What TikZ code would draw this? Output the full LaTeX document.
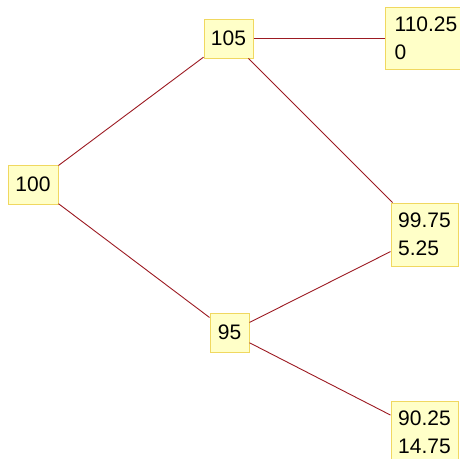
\documentclass[tikz,border=0pt]{standalone}
\usepackage{fontspec}
\setmainfont{Liberation Sans}
\definecolor{linkred}{HTML}{9C1A22}
\definecolor{boxfill}{HTML}{FFFFC8}
\definecolor{boxline}{HTML}{F0D860}
\begin{document}
\begin{tikzpicture}[x=1pt,y=-1pt,
  treebox/.style={draw=boxline, fill=boxfill, line width=1pt, inner sep=0pt,
    align=left, font=\fontsize{21}{27.7}\selectfont},
  link/.style={draw=linkred, line width=0.9pt}]
  \useasboundingbox (0,0) rectangle (460,458);
  \clip (0,0) rectangle (460,458);

  % price tree nodes
  \node[treebox, minimum width=50pt, minimum height=39pt] (n100) at (33,184.5) {100};
  \node[treebox, minimum width=49pt, minimum height=39pt] (n105) at (228.5,38.5) {105};
  \node[treebox, minimum width=39pt, minimum height=39pt] (n95) at (229.5,332.5) {95};
  \node[treebox, minimum width=82pt, minimum height=62pt] (uu) at (426,38.5) {110.25\\0};
  \node[treebox, minimum width=67pt, minimum height=63pt] (ud) at (424.5,234.5) {99.75\\5.25};
  \node[treebox, minimum width=67pt, minimum height=63pt] (dd) at (424.5,432.5) {90.25\\14.75};

  % branches
  \draw[link] (n100) -- (n105);
  \draw[link] (n100) -- (n95);
  \draw[link] (n105) -- (uu);
  \draw[link] (n105) -- (ud);
  \draw[link] (n95) -- (ud);
  \draw[link] (n95) -- (dd);
\end{tikzpicture}
\end{document}
